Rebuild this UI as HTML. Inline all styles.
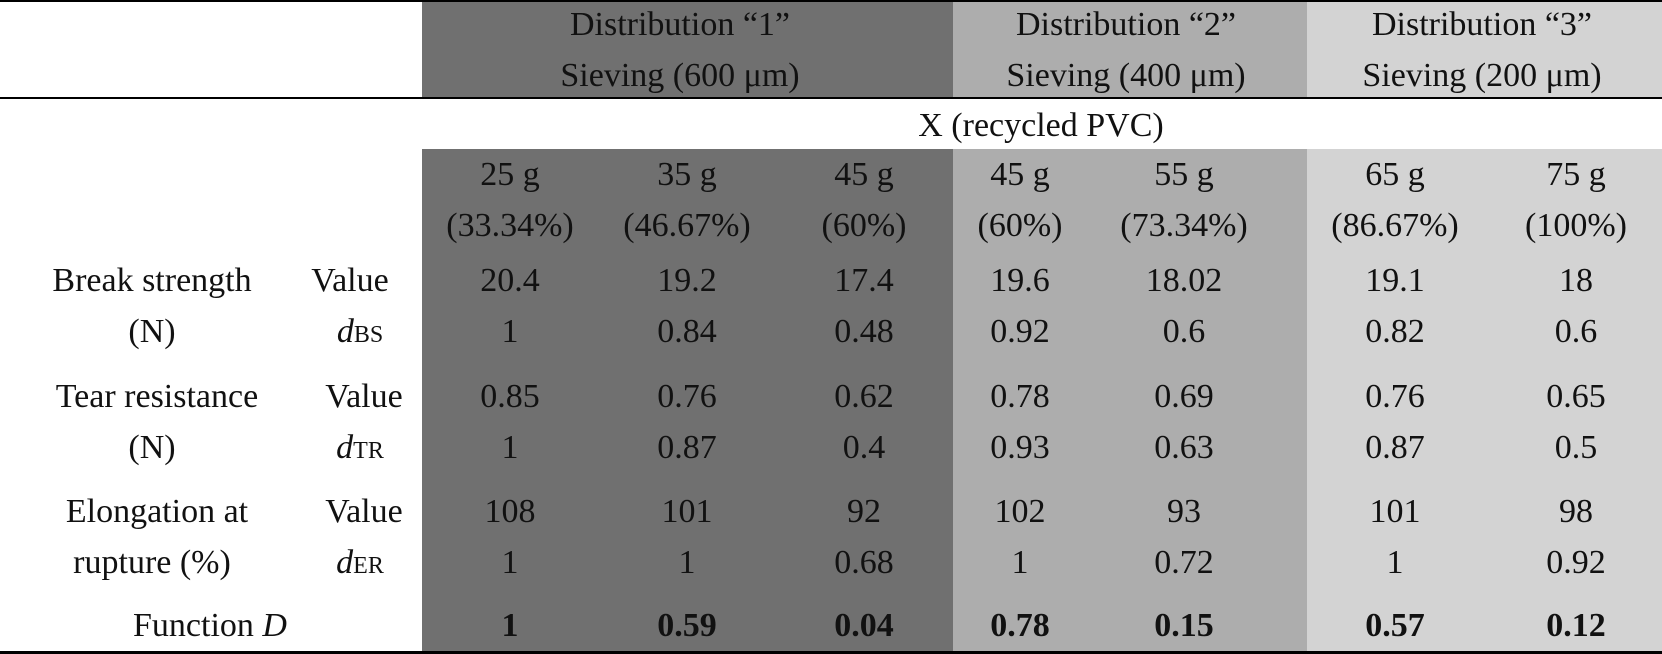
<!DOCTYPE html>
<html><head><meta charset="utf-8"><style>
html,body{margin:0;padding:0;background:#fff;}
svg{display:block;}
text{font-family:"Liberation Serif",serif;font-size:34px;fill:#111;}
</style></head><body>
<svg width="1662" height="654" viewBox="0 0 1662 654">
<rect x="422" y="2" width="531" height="95" fill="#707070"/>
<rect x="953" y="2" width="354" height="95" fill="#adadad"/>
<rect x="1307" y="2" width="355" height="95" fill="#d3d3d3"/>
<rect x="422" y="149" width="531" height="502" fill="#707070"/>
<rect x="953" y="149" width="354" height="502" fill="#adadad"/>
<rect x="1307" y="149" width="355" height="502" fill="#d3d3d3"/>
<rect x="0" y="0" width="1662" height="2" fill="#000"/>
<rect x="0" y="97" width="1662" height="2" fill="#000"/>
<rect x="0" y="651" width="1662" height="3" fill="#000"/>
<g text-anchor="middle">
<text x="680" y="35">Distribution “1”</text>
<text x="680" y="86">Sieving (600 μm)</text>
<text x="1126" y="35">Distribution “2”</text>
<text x="1126" y="86">Sieving (400 μm)</text>
<text x="1482" y="35">Distribution “3”</text>
<text x="1482" y="86">Sieving (200 μm)</text>
<text x="1041" y="136">X (recycled PVC)</text>

<text x="510" y="185">25 g</text>
<text x="687" y="185">35 g</text>
<text x="864" y="185">45 g</text>
<text x="1020" y="185">45 g</text>
<text x="1184" y="185">55 g</text>
<text x="1395" y="185">65 g</text>
<text x="1576" y="185">75 g</text>
<text x="510" y="236">(33.34%)</text>
<text x="687" y="236">(46.67%)</text>
<text x="864" y="236">(60%)</text>
<text x="1020" y="236">(60%)</text>
<text x="1184" y="236">(73.34%)</text>
<text x="1395" y="236">(86.67%)</text>
<text x="1576" y="236">(100%)</text>

<text x="152" y="291">Break strength</text>
<text x="152" y="342">(N)</text>
<text x="157" y="407">Tear resistance</text>
<text x="152" y="458">(N)</text>
<text x="157" y="522">Elongation at</text>
<text x="152" y="573">rupture (%)</text>
<text x="210" y="636">Function <tspan font-style="italic">D</tspan></text>

<text x="350" y="291">Value</text>
<text x="360" y="342"><tspan font-style="italic">d</tspan><tspan font-size="24">BS</tspan></text>
<text x="364" y="407">Value</text>
<text x="360" y="458"><tspan font-style="italic">d</tspan><tspan font-size="24">TR</tspan></text>
<text x="364" y="522">Value</text>
<text x="360" y="573"><tspan font-style="italic">d</tspan><tspan font-size="24">ER</tspan></text>
</g>
<g id="cells" text-anchor="middle"></g>
</svg>
<script>
const colX = [510, 687, 864, 1020, 1184, 1395, 1576];
const bsValue = ["20.4","19.2","17.4","19.6","18.02","19.1","18"];
const dBS = ["1","0.84","0.48","0.92","0.6","0.82","0.6"];
const trValue = ["0.85","0.76","0.62","0.78","0.69","0.76","0.65"];
const dTR = ["1","0.87","0.4","0.93","0.63","0.87","0.5"];
const erValue = ["108","101","92","102","93","101","98"];
const dER = ["1","1","0.68","1","0.72","1","0.92"];
const funcD = ["1","0.59","0.04","0.78","0.15","0.57","0.12"];
const rows = [
  {vals: bsValue, y: 291, name: "bs-value"},
  {vals: dBS, y: 342, name: "dbs"},
  {vals: trValue, y: 407, name: "tr-value"},
  {vals: dTR, y: 458, name: "dtr"},
  {vals: erValue, y: 522, name: "er-value"},
  {vals: dER, y: 573, name: "der"},
  {vals: funcD, y: 636, name: "function-d", bold: true}
];
const g = document.getElementById('cells');
rows.forEach(r => {
  r.vals.forEach((v, i) => {
    const t = document.createElementNS('http://www.w3.org/2000/svg', 'text');
    t.setAttribute('x', colX[i]);
    t.setAttribute('y', r.y);
    if (r.bold) t.setAttribute('font-weight', 'bold');
    t.textContent = v;
    
    
    g.appendChild(t);
  });
});
</script>
</body></html>
